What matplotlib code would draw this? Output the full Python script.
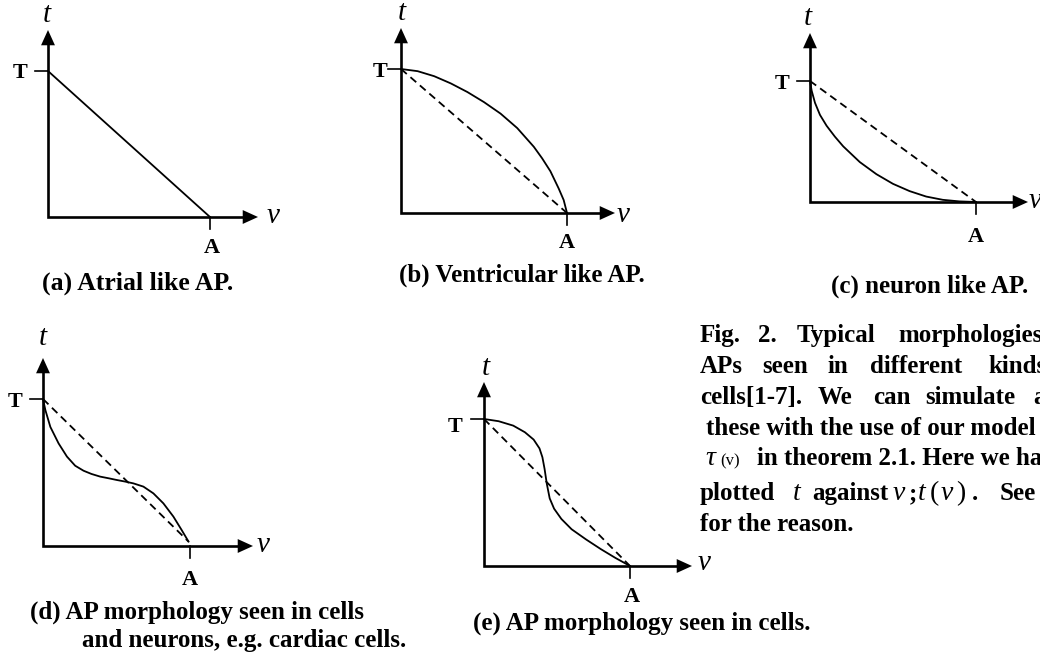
import matplotlib.pyplot as plt

plt.rcParams['font.family'] = 'Liberation Serif'
plt.rcParams['lines.scale_dashes'] = False

W, H = 1040, 664

# curves in normalised units: v = 1 at A, t = 1 at T
va = [0.0, 1.0]
ta = [1.0, 0.0]

vb = [0.0, 0.1, 0.2, 0.3, 0.4, 0.5, 0.6, 0.7, 0.8, 0.85, 0.9, 0.95, 0.98, 1.0]
tb = [1.0, 0.985, 0.95, 0.90, 0.84, 0.77, 0.69, 0.59, 0.46, 0.38, 0.29, 0.17, 0.09, 0.0]

vc = [0.0, 0.01, 0.03, 0.06, 0.1, 0.15, 0.2, 0.3, 0.4, 0.5, 0.6, 0.7, 0.8, 0.9, 1.0]
tc = [1.0, 0.92, 0.82, 0.72, 0.63, 0.54, 0.46, 0.33, 0.23, 0.15, 0.09, 0.045, 0.018, 0.005, 0.0]

vd = [0.0, 0.016, 0.05, 0.106, 0.163, 0.219, 0.276, 0.33, 0.389, 0.45, 0.502,
      0.56, 0.615, 0.683, 0.751, 0.819, 0.887, 0.943, 0.99]
td = [1.0, 0.925, 0.81, 0.698, 0.608, 0.546, 0.512, 0.49, 0.472, 0.46, 0.449,
      0.438, 0.426, 0.404, 0.358, 0.29, 0.2, 0.109, 0.03]

ve = [0.0, 0.1, 0.2, 0.28, 0.34, 0.38, 0.40, 0.415, 0.43, 0.45, 0.48, 0.53,
      0.6, 0.7, 0.8, 0.9, 1.0]
te = [1.0, 0.985, 0.955, 0.91, 0.86, 0.80, 0.74, 0.66, 0.56, 0.46, 0.39, 0.32,
      0.25, 0.18, 0.115, 0.055, 0.0]

# panel frames in pixels: origin x, origin y, A x, T y, v-arrow tip x, t-arrow tip y
GEOM = {
    'a': (48, 217, 210, 71, 258, 30),
    'b': (401, 213, 567, 69, 615, 28),
    'c': (810, 202, 976, 81, 1028, 33),
    'd': (43, 546, 190, 399, 253, 358),
    'e': (484, 566, 630, 419, 692, 382),
}

fig = plt.figure(figsize=(W / 100, H / 100), dpi=100)


def ptext(x, y, s, size=18, weight='bold', style='normal', ha='left'):
    fig.text(x / W, 1 - y / H, s, fontsize=size, fontweight=weight,
             fontstyle=style, ha=ha, va='baseline')


def draw_panel(g, v, t, dashed=True):
    ox, oy, xa, yt, xtip, ytip = g
    sx, sy = xa - ox, oy - yt
    ax = fig.add_axes([ox / W, 1 - oy / H, sx / W, sy / H])
    ax.set_xlim(0, 1)
    ax.set_ylim(0, 1)
    ax.axis('off')
    xe, ye = (xtip - ox) / sx, (oy - ytip) / sy
    hl = 15
    ax.plot([0, 0, xe - hl / sx], [ye - hl / sy, 0, 0], color='k', lw=1.9,
            solid_joinstyle='miter', clip_on=False)
    head = dict(arrowstyle='-|>,head_length=1.1,head_width=0.5', color='k',
                lw=0, shrinkA=0, shrinkB=0, mutation_scale=10)
    ax.annotate('', xy=(xe, 0), xytext=(xe - hl / sx, 0), arrowprops=head,
                annotation_clip=False)
    ax.annotate('', xy=(0, ye), xytext=(0, ye - hl / sy), arrowprops=head,
                annotation_clip=False)
    # T and A ticks
    ax.plot([-13 / sx, 0], [1, 1], color='k', lw=1.2, clip_on=False)
    ax.plot([1, 1], [0, -12 / sy], color='k', lw=1.2, clip_on=False)
    ax.plot(v, t, color='k', lw=1.3, clip_on=False)
    if dashed:
        ax.plot([v[0], v[-1]], [t[0], t[-1]], color='k', lw=1.3,
                dashes=(5.5, 3.5), clip_on=False)
    return ax


draw_panel(GEOM['a'], va, ta, dashed=False)
draw_panel(GEOM['b'], vb, tb)
draw_panel(GEOM['c'], vc, tc)
draw_panel(GEOM['d'], vd, td)
draw_panel(GEOM['e'], ve, te)

# axis labels
lab = 16
it = 21
# (a)
ptext(20, 78, 'T', lab, ha='center')
ptext(212, 253, 'A', lab, ha='center')
ptext(273, 223, 'v', it, 'normal', 'italic', ha='center')
ptext(47, 22, 't', it, 'normal', 'italic', ha='center')
ptext(138, 290, '(a) Atrial like AP.', 18.5, ha='center')
# (b)
ptext(380, 77, 'T', lab, ha='center')
ptext(567, 248, 'A', lab, ha='center')
ptext(623, 222, 'v', it, 'normal', 'italic', ha='center')
ptext(402, 20, 't', it, 'normal', 'italic', ha='center')
ptext(522, 282, '(b) Ventricular like AP.', 18, ha='center')
# (c)
ptext(782, 89, 'T', lab, ha='center')
ptext(976, 242, 'A', lab, ha='center')
ptext(1029, 208, 'v', it, 'normal', 'italic')
ptext(808, 25, 't', it, 'normal', 'italic', ha='center')
ptext(1028, 293, '(c) neuron like AP.', 18, ha='right')
# (d)
ptext(15, 407, 'T', lab, ha='center')
ptext(190, 585, 'A', lab, ha='center')
ptext(263, 552, 'v', it, 'normal', 'italic', ha='center')
ptext(43, 345, 't', it, 'normal', 'italic', ha='center')
ptext(30, 619, '(d) AP morphology seen in cells', 18)
ptext(82, 647, 'and neurons, e.g. cardiac cells.', 18)
# (e)
ptext(455, 432, 'T', lab, ha='center')
ptext(632, 602, 'A', lab, ha='center')
ptext(704, 570, 'v', it, 'normal', 'italic', ha='center')
ptext(486, 375, 't', it, 'normal', 'italic', ha='center')
ptext(473, 630, '(e) AP morphology seen in cells.', 18)

# figure caption, justified lines (clipped at the right edge as in the source)
cap = [
    (342, [(700, 'Fig.'), (758, '2.'), (797, 'Typical'), (898, 'morphologies')]),
    (373, [(700, 'APs'), (762, 'seen'), (828, 'in'), (870, 'different'), (988, 'kinds')]),
    (404, [(700, 'cells[1-7].'), (818, 'We'), (873, 'can'), (925, 'simulate'), (1033, 'all')]),
    (435, [(706, 'these with the use of our model')]),
    (465, [(757, 'in theorem 2.1. Here we have')]),
    (500, [(700, 'plotted'), (812, 'against'), (1000, 'See')]),
    (531, [(700, 'for the reason.')]),
]
for y, words in cap:
    for x, w in words:
        ptext(x, y, w, 18)

ptext(705, 465, 'τ', 20, 'normal', 'italic')
ptext(720, 465, '(v)', 12, 'normal')
ptext(793, 500, 't', 20, 'normal', 'italic')
ptext(893, 500, 'v', 20, 'normal', 'italic')
ptext(909, 500, ';', 18)
ptext(918, 500, 't', 20, 'normal', 'italic')
ptext(930, 500, '(', 20, 'normal')
ptext(941, 500, 'v', 20, 'normal', 'italic')
ptext(956, 500, ')', 20, 'normal')
ptext(972, 500, '.', 18)

fig.savefig('out.png', dpi=100)
